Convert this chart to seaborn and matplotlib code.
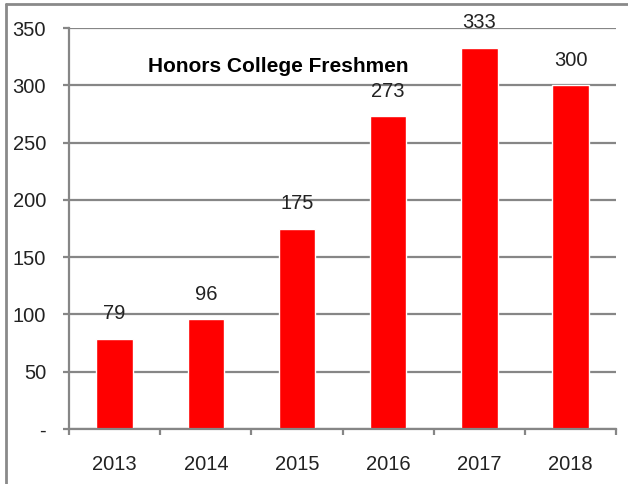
import matplotlib
matplotlib.use("Agg")
import matplotlib.pyplot as plt
from matplotlib.lines import Line2D
from matplotlib.ticker import FixedLocator
import seaborn as sns
import pandas as pd

years = ["2013", "2014", "2015", "2016", "2017", "2018"]
freshmen = [79, 96, 175, 273, 333, 300]
y_ticks = [0, 50, 100, 150, 200, 250, 300, 350]
y_tick_labels = ["-", "50", "100", "150", "200", "250", "300", "350"]

df = pd.DataFrame({"year": years, "freshmen": freshmen})

sns.set_style("white")
plt.rcParams["font.family"] = ["Liberation Sans Narrow", "Liberation Sans", "DejaVu Sans"]

grey = "#868686"
fig = plt.figure(figsize=(6.28, 4.84), dpi=100)
ax = fig.add_axes([0.110, 0.1136, 0.871, 0.8285])

sns.barplot(data=df, x="year", y="freshmen", color="#ff0000", width=0.4,
            saturation=1, ax=ax, zorder=2)

ax.set_xlim(-0.5, 5.5)
ax.set_ylim(0, 350)
ax.set_yticks(y_ticks)
ax.set_yticklabels(y_tick_labels)
ax.yaxis.grid(True, color=grey, linewidth=1.6, zorder=1)
ax.set_axisbelow(True)

# category boundary ticks on the x axis
ax.xaxis.set_minor_locator(FixedLocator([i - 0.5 for i in range(len(years) + 1)]))
ax.tick_params(axis="x", which="minor", direction="out", length=4.5, width=1.6,
               color=grey, bottom=True)
ax.tick_params(axis="x", which="major", length=0, pad=19, labelsize=14.5,
               labelcolor="#222222")
ax.tick_params(axis="y", which="major", direction="out", length=4.5, width=1.6,
               color=grey, pad=12, labelsize=14.5, labelcolor="#222222", left=True)

for side in ["top", "right"]:
    ax.spines[side].set_visible(False)
for side in ["left", "bottom"]:
    ax.spines[side].set_color(grey)
    ax.spines[side].set_linewidth(1.6)

ax.set_xlabel("")
ax.set_ylabel("")

for i, v in enumerate(freshmen):
    ax.annotate(str(v), (i, v), xytext=(0, 11), textcoords="offset points",
                ha="center", va="bottom", fontsize=14.5, color="#222222")

ax.text(0.145, 0.905, "Honors College Freshmen", transform=ax.transAxes,
        fontsize=15, fontweight="bold", color="black", va="center")

# outer frame (left and top edges visible)
fig.add_artist(Line2D([6 / 628, 6 / 628], [0, 1 - 4 / 484], color="#8a8a8a",
                      linewidth=2, transform=fig.transFigure))
fig.add_artist(Line2D([6 / 628, 1], [1 - 4 / 484, 1 - 4 / 484], color="#8a8a8a",
                      linewidth=2, transform=fig.transFigure))

fig.savefig("out.png", dpi=100)
